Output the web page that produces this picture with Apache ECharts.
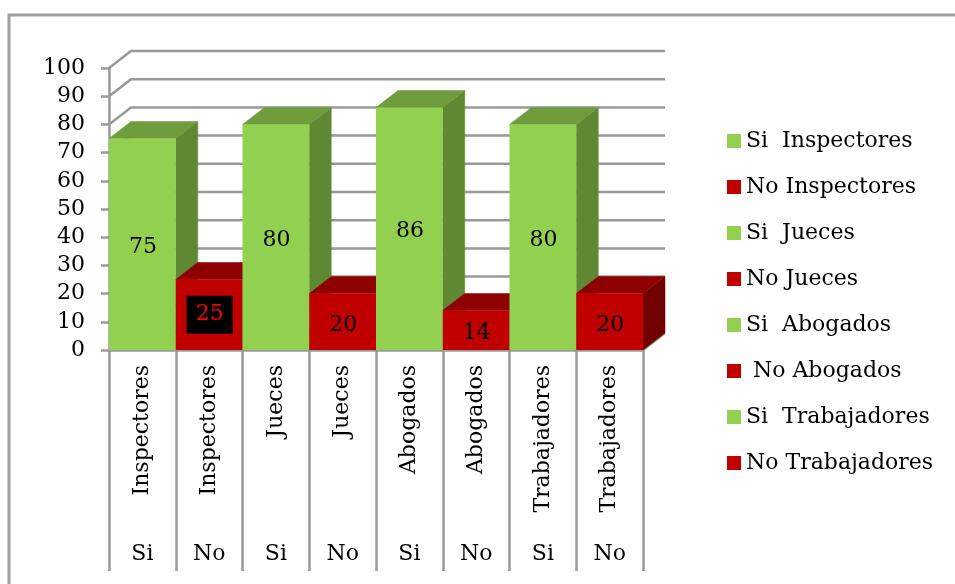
<!DOCTYPE html>
<html>
<head>
<meta charset="utf-8">
<style>html,body{margin:0;padding:0;background:#fff}#c{width:955px;height:584px}</style>
<script src="https://cdn.jsdelivr.net/npm/echarts@6/dist/echarts.min.js"></script>
</head>
<body>
<div id="c"></div>
<script>
const groupLabels = ['Inspectores','Inspectores','Jueces','Jueces','Abogados','Abogados','Trabajadores','Trabajadores'];
const answerLabels = ['Si','No','Si','No','Si','No','Si','No'];
const legendNames = ['Si  Inspectores','No Inspectores','Si  Jueces','No Jueces','Si  Abogados',' No Abogados','Si  Trabajadores','No Trabajadores'];
const values = [75,25,80,20,86,14,80,20];
const gridTicks = [0,10,20,30,40,50,60,70,80,90,100];

const FONT = '"DejaVu Serif", serif';
const FS = 22;
const DX = 22, DY = 17;
const GRIDC = '#999999';
const SHADES = {
  Si: {front:'#92D050', top:'#6F9C3C', side:'#5F8833'},
  No: {front:'#C00000', top:'#8F0000', side:'#730000'}
};

const chart = echarts.init(document.getElementById('c'), null, {renderer:'canvas'});

function poly(points, fill, z2){
  return {type:'polygon', z2:z2||0, shape:{points}, style:{fill, stroke:fill, lineWidth:0.5}};
}

function renderBar(params, api){
  const idx = api.value(0);
  const v = api.value(1);
  const w = api.size([1,0])[0];
  const base = api.coord([idx,0]);
  const top = api.coord([idx,v]);
  const l = base[0]-w/2, r = base[0]+w/2, y0 = base[1], y1 = top[1];
  const c = SHADES[answerLabels[idx]];
  const highlighted = v === 25;
  return {type:'group', children:[
    poly([[r,y1],[r+DX,y1-DY],[r+DX,y0-DY],[r,y0]], c.side),
    poly([[l,y1],[l+DX,y1-DY],[r+DX,y1-DY],[r,y1]], c.top),
    {type:'rect', shape:{x:l,y:y1,width:r-l,height:y0-y1}, style:{fill:c.front}},
    {type:'text', z2:5, x:(l+r)/2+0.5, y:(y0+y1)/2+(highlighted?0:3), style:{
      text:String(v), align:'center', verticalAlign:'middle',
      font:FS+'px '+FONT,
      fill: highlighted ? '#FF0000' : '#000000',
      backgroundColor: highlighted ? '#000000' : null,
      padding: highlighted ? [8,9,8,9] : 0
    }}
  ]};
}

function renderWalls(params, api){
  const v = api.value(1);
  const w = api.size([1,0])[0];
  const a = api.coord([0,v]);
  const b = api.coord([groupLabels.length-1,v]);
  const l = a[0]-w/2, r = b[0]+w/2, y = a[1];
  const line = {stroke:GRIDC, lineWidth:2.5, fill:null};
  return {type:'polyline', shape:{points:[[l,y],[l+DX,y-DY],[r+DX,y-DY]]}, style:line};
}

const series = [{
  type:'custom', name:'walls', silent:true, z:1,
  coordinateSystem:'cartesian2d',
  renderItem:renderWalls,
  data:gridTicks.map(t=>[0,t]),
  encode:{x:0,y:1}, clip:false
},{
  type:'custom', name:'floor', silent:true, z:1,
  renderItem:function(params, api){
    const w = api.size([1,0])[0];
    const b = api.coord([groupLabels.length-1,0]);
    const r = b[0]+w/2;
    return {type:'line', shape:{x1:r,y1:b[1],x2:r+DX,y2:b[1]-DY}, style:{stroke:GRIDC,lineWidth:2.5}};
  },
  data:[[0,0]], encode:{x:0,y:1}, clip:false
}];
values.forEach((v,i)=>{
  series.push({
    type:'custom', name:legendNames[i], z:3+i, clip:false,
    itemStyle:{color:SHADES[answerLabels[i]].front},
    renderItem:renderBar,
    data:[[i,v]], encode:{x:0,y:1}
  });
});

chart.setOption({
  animation:false,
  backgroundColor:'#ffffff',
  textStyle:{fontFamily:FONT},
  graphic:[{type:'polyline', z:0, silent:true,
    shape:{points:[[9,590],[9,15],[960,15]]},
    style:{stroke:'#A0A0A0', lineWidth:3, fill:null}}],
  grid:{left:109,right:312,top:68,bottom:234,containLabel:false},
  legend:{
    orient:'vertical', left:727, top:128,
    data:legendNames, icon:'rect',
    itemWidth:14, itemHeight:14, itemGap:20,
    selectedMode:false,
    textStyle:{fontFamily:FONT,fontSize:FS,color:'#000',lineHeight:26,padding:[0,0,0,0]},
    padding:0
  },
  xAxis:[{
    type:'category', data:groupLabels, position:'bottom', boundaryGap:true,
    axisLine:{show:true,lineStyle:{color:GRIDC,width:2.5}},
    axisTick:{show:true,alignWithLabel:false,length:221,lineStyle:{color:GRIDC,width:2.5}},
    axisLabel:{rotate:90,interval:0,margin:15,color:'#000',fontFamily:FONT,fontSize:FS},
    splitLine:{show:false}
  },{
    type:'category', data:answerLabels, position:'bottom', offset:190, boundaryGap:true,
    axisLine:{show:false}, axisTick:{show:false},
    axisLabel:{interval:0,margin:3,color:'#000',fontFamily:FONT,fontSize:FS},
    splitLine:{show:false}
  }],
  yAxis:{
    type:'value', min:0, max:100, interval:10,
    axisLine:{show:true,lineStyle:{color:GRIDC,width:2.5}},
    axisTick:{show:true,length:8,lineStyle:{color:GRIDC,width:2.5}},
    axisLabel:{margin:24,color:'#000',fontFamily:FONT,fontSize:FS},
    splitLine:{show:false}
  },
  series
});
</script>
</body>
</html>
